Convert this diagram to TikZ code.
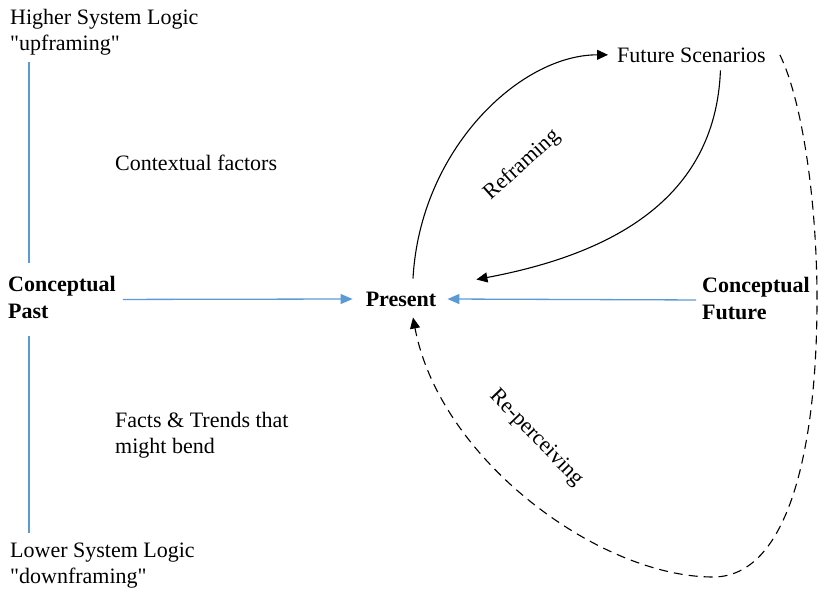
\documentclass[tikz,border=0pt]{standalone}
\usepackage{fontspec}
\newfontfamily\diagfont{Liberation Serif}
\usetikzlibrary{arrows.meta}
\definecolor{flowblue}{RGB}{91,155,213}
\begin{document}
\begin{tikzpicture}[x=1pt,y=-1pt,
    lbl/.style={inner sep=0pt,align=left,font=\diagfont\fontsize{22}{26}\selectfont},
    head/.style={lbl,font=\diagfont\fontsize{22}{27}\selectfont\bfseries},
    axis/.style={draw=flowblue,line width=1.3pt},
    push/.style={axis,-{Triangle[length=12pt,width=10pt]}},
    loop/.style={line width=1.1pt,-{Triangle[length=11pt,width=10pt]}}]
    \useasboundingbox (0,0) rectangle (819,592);

    % past side
    \node[lbl,anchor=north west] (higher) at (10,9) {Higher System Logic\\"upframing"};
    \node[head,anchor=north west] (past) at (8,276) {Conceptual\\Past};
    \node[lbl,anchor=north west] (lower) at (10,543) {Lower System Logic\\"downframing"};
    \node[lbl,anchor=base west] (context) at (115,170) {Contextual factors};
    \node[lbl,anchor=north west] (facts) at (115,412) {Facts \& Trends that\\might bend};

    \draw[axis] ([xshift=19pt,yshift=-7pt]higher.south west) -- ([xshift=21pt,yshift=13pt]past.north west);
    \draw[axis] ([xshift=21pt,yshift=-17pt]past.south west) -- ([xshift=19pt,yshift=10pt]lower.north west);

    % present and future
    \node[head] (present) at (401,299) {Present};
    \node[head,anchor=north west] (future) at (702,277) {Conceptual\\Future};
    \node[lbl,anchor=base west] (scen) at (617,62) {Future Scenarios};

    \draw[push] ([xshift=7pt,yshift=-2pt]past.east) -- ([xshift=-13pt]present.west);
    \draw[push] ([xshift=-6pt,yshift=-1.5pt]future.west) -- ([xshift=11pt]present.east);

    % reframing
    \draw[loop] ([xshift=12pt,yshift=13pt]present.north) .. controls +(7,-129) and +(-88,0) .. ([xshift=-9pt]scen.west);
    \draw[loop] ([xshift=29pt,yshift=-8pt]scen.south) .. controls +(-5,130) and +(133,-25) .. ([xshift=40pt,yshift=12pt]present.north east);
    \node[lbl,rotate=42] (refr) at (522,165) {Reframing};

    % re-perceiving
    \draw[loop,dash pattern=on 9pt off 6pt] ([xshift=14pt]scen.east) .. controls (802,100) and (817,200) .. (817,300)
        .. controls (817,450) and (788,577) .. (713,577)
        .. controls (600,577) and (440,460) .. ([xshift=12pt,yshift=-11pt]present.south);
    \node[lbl,rotate=-46] (reperc) at (536,438) {Re-perceiving};
\end{tikzpicture}
\end{document}
